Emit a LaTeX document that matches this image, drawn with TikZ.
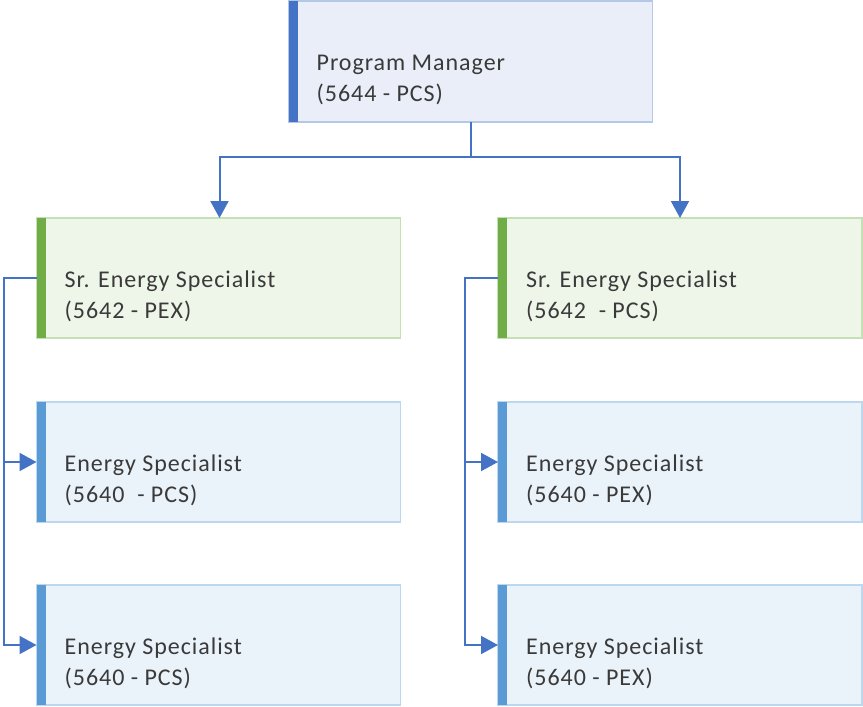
\documentclass[tikz,border=0pt]{standalone}
\usepackage{fontspec}
\setmainfont{Carlito}[LetterSpace=4]
\usetikzlibrary{arrows.meta}
\definecolor{pmbar}{HTML}{4472C4}
\definecolor{pmfill}{HTML}{E9EEF8}
\definecolor{pmline}{HTML}{B4C7E7}
\definecolor{srbar}{HTML}{70AD47}
\definecolor{srfill}{HTML}{EEF5E9}
\definecolor{srline}{HTML}{C5E0B4}
\definecolor{esbar}{HTML}{5B9BD5}
\definecolor{esfill}{HTML}{EBF3FA}
\definecolor{esline}{HTML}{BDD7EE}
\definecolor{txt}{HTML}{3A3A3A}
\definecolor{conn}{HTML}{4472C4}
\tikzset{
  box/.style={rectangle, draw=#1line, fill=#1fill, line width=1.5pt, minimum width=364pt, minimum height=120pt, inner sep=0pt, outer sep=0pt},
  lbl/.style={anchor=base west, text=txt, align=left, inner sep=0pt, font=\fontsize{24}{31}\selectfont},
  link/.style={draw=conn, line width=2pt, -{Triangle[length=17pt,width=18pt]}},
}
\newcommand{\boxaccent}[2]{\fill[#2] (#1.north west) rectangle ([xshift=9pt]#1.south west);}
\begin{document}
\begin{tikzpicture}[x=1pt,y=-1pt]
\useasboundingbox (0,0) rectangle (863,707);
\node[box=pm, minimum height=121pt] (pm) at (470.5,61.5) {};
\boxaccent{pm}{pmbar}
\node[lbl] (pmt) at ([xshift=28pt,yshift=-40pt]pm.west) {Program Manager\\(5644 - PCS)};

\node[box=sr] (sr1) at (218.5,278) {};
\boxaccent{sr1}{srbar}
\node[lbl] (sr1t) at ([xshift=28pt,yshift=-40pt]sr1.west) {Sr. Energy Specialist\\(5642 - PEX)};
\node[box=sr] (sr2) at (680,278) {};
\boxaccent{sr2}{srbar}
\node[lbl] (sr2t) at ([xshift=28pt,yshift=-40pt]sr2.west) {Sr. Energy Specialist\\(5642 \ - PCS)};

\node[box=es] (e1) at (218.5,462) {};
\boxaccent{e1}{esbar}
\node[lbl] (e1t) at ([xshift=28pt,yshift=-40pt]e1.west) {Energy Specialist\\(5640 \ - PCS)};
\node[box=es] (e2) at (218.5,645) {};
\boxaccent{e2}{esbar}
\node[lbl] (e2t) at ([xshift=28pt,yshift=-40pt]e2.west) {Energy Specialist\\(5640 - PCS)};
\node[box=es] (e3) at (680,462) {};
\boxaccent{e3}{esbar}
\node[lbl] (e3t) at ([xshift=28pt,yshift=-40pt]e3.west) {Energy Specialist\\(5640 - PEX)};
\node[box=es] (e4) at (680,645) {};
\boxaccent{e4}{esbar}
\node[lbl] (e4t) at ([xshift=28pt,yshift=-40pt]e4.west) {Energy Specialist\\(5640 - PEX)};

\draw[link] (pm.south) -- ++(0,35) -| ([xshift=1pt]sr1.north);
\draw[link] (pm.south) -- ++(0,35) -| (sr2.north);
\draw[link] (sr1.west) -- ++(-33,0) |- (e1.west);
\draw[link] (sr1.west) -- ++(-33,0) |- (e2.west);
\draw[link] (sr2.west) -- ++(-33,0) |- (e3.west);
\draw[link] (sr2.west) -- ++(-33,0) |- (e4.west);
\end{tikzpicture}
\end{document}
